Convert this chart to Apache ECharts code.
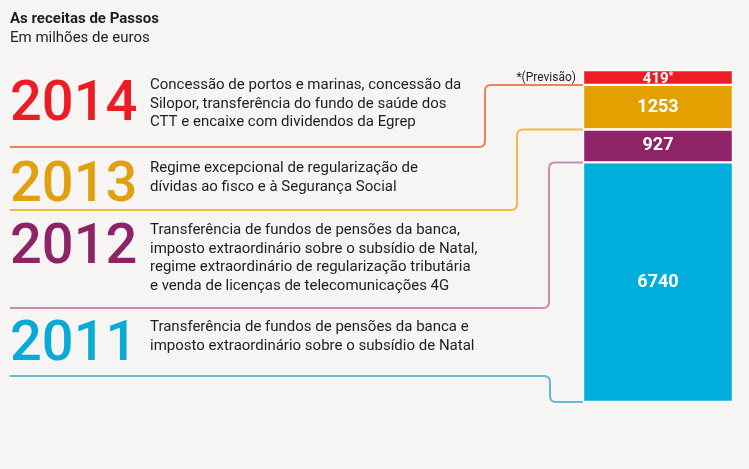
<!DOCTYPE html>
<html>
<head>
<meta charset="UTF-8">
<title>As receitas de Passos</title>
<script src="https://cdn.jsdelivr.net/npm/echarts@6/dist/echarts.min.js"></script>
<style>
  html, body { margin: 0; padding: 0; background: #f6f5f3; }
  #main { width: 749px; height: 469px; }
</style>
</head>
<body>
<div id="main"></div>
<script>
  // dados (milhões de euros), de baixo para cima
  var years = ['2011', '2012', '2013', '2014'];
  var revenue = [6740, 927, 1253, 419];
  var barLabels = ['6740', '927', '1253', '419'];
  var forecast = [false, false, false, true];
  var notes = [
    'Transferência de fundos de pensões da banca e\nimposto extraordinário sobre o subsídio de Natal',
    'Transferência de fundos de pensões da banca,\nimposto extraordinário sobre o subsídio de Natal,\nregime extraordinário de regularização tributária\ne venda de licenças de telecomunicações 4G',
    'Regime excepcional de regularização de\ndívidas ao fisco e à Segurança Social',
    'Concessão de portos e marinas, concessão da\nSilopor, transferência do fundo de saúde dos\nCTT e encaixe com dividendos da Egrep'
  ];

  // layout / estilo
  var barColors = ['#00aedb', '#8e236a', '#e4a000', '#ee1c25'];
  var yearColors = ['#0aaad6', '#8e2468', '#e0a010', '#ec1c24'];
  var lineColors = ['#6bb6d6', '#c48db3', '#f1b948', '#ee7f5e'];
  var yearY = [346, 249, 187, 106];
  var noteY = [318, 221, 159, 76];
  var sepY = [376, 308, 210, 147];
  var turnX = [550, 549, 517, 485];
  var labelSize = [18, 18, 18, 15];
  var labelShift = [0, 0, 0, 2];
  var FONT = 'Roboto, "Noto Sans", sans-serif';

  var total = revenue.reduce(function (a, b) { return a + b; }, 0);
  var below = [];
  var acc = 0;
  revenue.forEach(function (v) { below.push(acc); acc += v; });

  var chart = echarts.init(document.getElementById('main'));

  var series = revenue.map(function (v, i) {
    return {
      name: years[i],
      type: 'bar',
      stack: 'total',
      barWidth: '100%',
      data: [v],
      itemStyle: { color: barColors[i], borderColor: '#ffffff', borderWidth: 1.2 },
      label: {
        show: true,
        position: 'inside',
        offset: [0, labelShift[i]],
        formatter: forecast[i] ? '{v|' + barLabels[i] + '}{s|*}' : '{v|' + barLabels[i] + '}',
        rich: {
          v: { color: '#fff', fontFamily: FONT, fontWeight: 'bold', fontSize: labelSize[i], lineHeight: labelSize[i] },
          s: { color: '#fff', fontFamily: FONT, fontWeight: 'bold', fontSize: 10, lineHeight: labelSize[i], verticalAlign: 'top' }
        }
      },
      silent: true
    };
  });

  // linhas de ligação entre cada texto e o seu segmento
  series.push({
    type: 'custom',
    data: years.map(function (y, i) { return [0, below[i], i]; }),
    z: 1,
    renderItem: function (params, api) {
      var i = api.value(2);
      var end = api.coord([api.value(0), api.value(1)]);
      var xb = params.coordSys.x;
      var ye = end[1];
      var h = sepY[i];
      var xv = turnX[i];
      var r = 6;
      var s = ye < h ? -1 : 1;
      var d = 'M10 ' + h +
        ' L' + (xv - r) + ' ' + h +
        ' Q' + xv + ' ' + h + ' ' + xv + ' ' + (h + s * r) +
        ' L' + xv + ' ' + (ye - s * r) +
        ' Q' + xv + ' ' + ye + ' ' + (xv + r) + ' ' + ye +
        ' L' + xb + ' ' + ye;
      return {
        type: 'path',
        shape: { pathData: d },
        style: { fill: null, stroke: lineColors[i], lineWidth: 2 }
      };
    },
    silent: true
  });

  var graphic = [
    { type: 'text', left: 10, top: 12, style: { text: 'As receitas de Passos', font: 'bold 15px ' + FONT, fill: '#1e1e1e' } },
    { type: 'text', left: 10, top: 31, style: { text: 'Em milhões de euros', font: '15px ' + FONT, fill: '#1e1e1e' } },
    { type: 'text', x: 576, y: 78, style: { text: '*(Previsão)', font: '12px ' + FONT, fill: '#1e1e1e', align: 'right', verticalAlign: 'middle' } }
  ];
  years.forEach(function (y, i) {
    graphic.push({
      type: 'text', x: 10, y: yearY[i],
      style: { text: y, font: '500 56px ' + FONT, fill: yearColors[i], verticalAlign: 'middle' }
    });
    graphic.push({
      type: 'text', x: 150, y: noteY[i],
      style: { text: notes[i], font: '15px ' + FONT, fill: '#1e1e1e', lineHeight: 18.5, verticalAlign: 'top' }
    });
  });

  chart.setOption({
    backgroundColor: '#f6f5f3',
    animation: false,
    grid: { left: 583, right: 16, top: 70, bottom: 67 },
    xAxis: { type: 'category', data: ['receitas'], show: false },
    yAxis: { type: 'value', min: 0, max: total, show: false },
    series: series,
    graphic: graphic
  });
</script>
</body>
</html>
